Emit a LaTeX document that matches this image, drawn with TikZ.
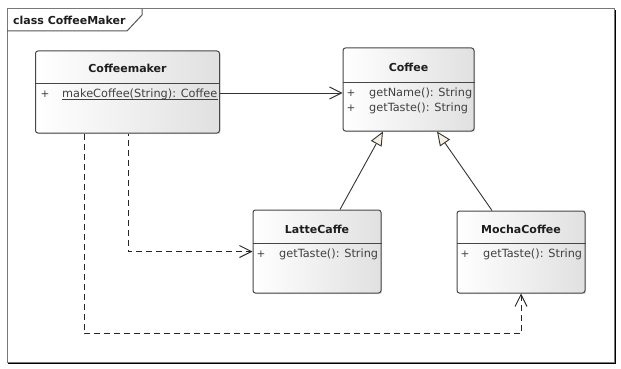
\documentclass[tikz,border=0pt]{standalone}
\usepackage{fontspec}
\setmainfont{DejaVu Sans}
\usetikzlibrary{arrows.meta,shadows}

\definecolor{framegray}{RGB}{120,120,120}
\definecolor{boxline}{RGB}{70,70,70}
\definecolor{txt}{RGB}{30,30,30}
\definecolor{gencream}{RGB}{248,240,228}

\tikzset{
  classbox/.style={draw=boxline, line width=1pt, rounded corners=2.5pt,
    left color=white, right color=black!12,
    drop shadow={shadow xshift=1.2pt, shadow yshift=-1.2pt, opacity=0.25},
    inner sep=0pt},
  classname/.style={font=\fontsize{11}{13}\selectfont\bfseries, text=txt},
  optext/.style={font=\fontsize{11.3}{13}\selectfont, text=txt!85, anchor=west, inner sep=0pt},
  visib/.style={font=\fontsize{10.5}{12}\selectfont, text=txt!85, inner sep=0pt},
  sep/.style={draw=boxline, line width=1pt},
  assoc/.style={draw=black!80, line width=0.9pt, -{Straight Barb[length=12pt,width=12pt,line width=0.9pt]}},
  dep/.style={draw=black!85, line width=0.9pt, dash pattern=on 6pt off 4pt,
    -{Straight Barb[length=12pt,width=12pt,line width=0.9pt]}},
  gen/.style={draw=black!80, line width=0.9pt,
    -{Triangle[open, length=14pt, width=12pt, line width=0.9pt, fill=gencream]}},
}

\begin{document}
\begin{tikzpicture}[x=1pt, y=-1pt]
\useasboundingbox (0,0) rectangle (621,369);

% diagram frame with its name tab
\draw[black, line width=1.4pt] (8,363) -- (615,363) -- (615,10);
\draw[framegray, line width=1pt] (7,9) rectangle (614,362);
\draw[framegray!70!black, line width=1pt] (7,31) -- (127,31) -- (142,15) -- (142,9);
\node[anchor=west, font=\fontsize{11}{13}\selectfont\bfseries, text=txt, inner sep=0pt]
  (frametitle) at (13,20) {class CoffeeMaker};

% classes
\node[classbox, minimum width=184pt, minimum height=82pt] (maker)  at (127.5,92) {};
\node[classbox, minimum width=131pt, minimum height=83pt] (coffee) at (408.5,89.5) {};
\node[classbox, minimum width=128pt, minimum height=83pt] (latte)  at (317,251.5) {};
\node[classbox, minimum width=128pt, minimum height=82pt] (mocha)  at (521,252) {};

% compartment separators
\draw[sep] (maker.west |- 0,83)  -- (maker.east |- 0,83);
\draw[sep] (coffee.west |- 0,82) -- (coffee.east |- 0,82);
\draw[sep] (latte.west |- 0,243) -- (latte.east |- 0,243);
\draw[sep] (mocha.west |- 0,243) -- (mocha.east |- 0,243);

% class names
\node[classname] (makername)  at (127.5,68) {Coffeemaker};
\node[classname] (coffeename) at (408.5,67) {Coffee};
\node[classname] (lattename)  at (317,229)  {LatteCaffe};
\node[classname] (mochaname)  at (521,229)  {MochaCoffee};

% operations
\node[visib] (mk1p) at (45,94) {+};
\node[optext] (mk1) at (62,94) {makeCoffee(String): Coffee};
\draw[txt!85, line width=0.6pt] ([yshift=-2pt]mk1.base west) -- ([yshift=-2pt]mk1.base east);

\node[visib] (cf1p) at (351,93) {+};
\node[optext] (cf1) at (369,93) {getName(): String};
\node[visib] (cf2p) at (351,108) {+};
\node[optext] (cf2) at (369,108) {getTaste(): String};

\node[visib] (lt1p) at (261,254) {+};
\node[optext] (lt1) at (279,254) {getTaste(): String};

\node[visib] (mc1p) at (465,254) {+};
\node[optext] (mc1) at (483,254) {getTaste(): String};

% association
\draw[assoc] (maker.east |- 0,93) -- (coffee.west |- 0,93);

% generalizations
\draw[gen] ([xshift=23pt]latte.north) -- ([xshift=-25.5pt]coffee.south);
\draw[gen] ([xshift=-29pt]mocha.north) -- ([xshift=28.5pt]coffee.south);

% dependencies
\draw[dep, dash phase=4pt] ([xshift=0.5pt]maker.south) |- (latte.west);
\draw[dep] ([xshift=-43.5pt]maker.south) -- ++(0,200) -| (mocha.south);
\end{tikzpicture}
\end{document}
